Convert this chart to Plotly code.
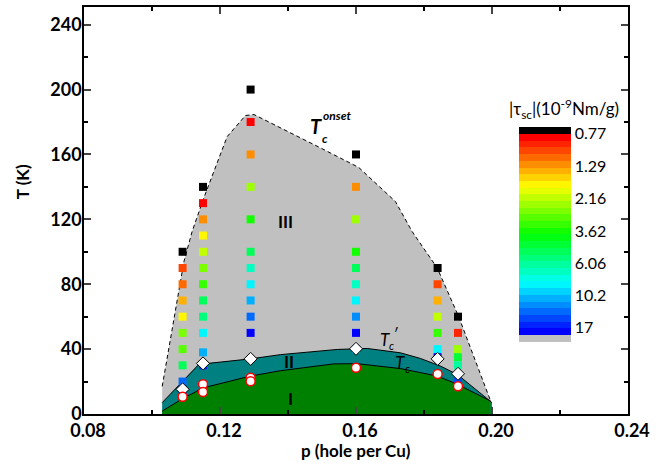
import numpy as np
import colorsys
import plotly.graph_objects as go

# ---------------- data ----------------
# doping columns (hole per Cu)
p_cols = [0.109, 0.115, 0.129, 0.160, 0.184, 0.190]

# torque squares: temperature (K) and |tau_sc| (1e-9 Nm/g) per column
sq_T = [
    [100, 90, 80, 70, 60, 50, 40, 30, 20, 15],
    [140, 130, 120, 110, 100, 90, 80, 70, 60, 50, 38, 30],
    [200, 180, 160, 140, 120, 100, 90, 80, 70, 60, 50],
    [160, 140, 120, 100, 90, 80, 70, 60, 50, 40],
    [90, 80, 70, 60, 50, 40, 35],
    [60, 50, 40, 35, 30, 20],
]
sq_tau = [
    [0.70, 1.05, 1.08, 1.32, 1.72, 2.6, 2.9, 5.2, 12.5, 16.5],
    [0.70, 0.82, 1.31, 1.72, 2.05, 2.56, 3.4, 4.9, 5.6, 8.5, 11.0, 17.0],
    [0.70, 0.80, 1.20, 2.3, 3.5, 5.2, 6.6, 8.5, 11.0, 12.7, 17.5],
    [0.70, 1.31, 2.3, 3.5, 5.0, 6.6, 8.5, 12.2, 18.0, 11.0],
    [0.70, 0.99, 1.44, 2.1, 3.4, 8.5, 18.0],
    [0.70, 0.90, 2.3, 4.5, 6.4, 13.8],
]

# Tc' (diamonds) and Tc (circles)
tcp_p = [0.109, 0.115, 0.129, 0.160, 0.184, 0.190]
tcp_T = [15.2, 31.2, 34.0, 40.2, 34.0, 24.8]
tc_p = [0.109, 0.115, 0.115, 0.129, 0.129, 0.160, 0.184, 0.190]
tc_T = [10.6, 18.4, 13.6, 22.3, 20.2, 28.5, 24.6, 17.1]

# boundary curves
onset_p = [0.103, 0.1094, 0.1118, 0.1152, 0.1221, 0.1275, 0.130, 0.1378, 0.1496,
           0.1608, 0.1716, 0.1765, 0.1839, 0.1902, 0.1996]
onset_T = [17, 94, 112.5, 133, 171, 184, 184.6, 176.5, 164, 152, 131, 112.5, 90, 60, 8]

tcp_curve_p = [0.103, 0.1104, 0.1138, 0.1201, 0.129, 0.1378, 0.1476, 0.1545, 0.1633,
               0.1731, 0.179, 0.1849, 0.1898, 0.2]
tcp_curve_T = [7, 23.4, 30.6, 32, 34, 36.6, 38.7, 39.8, 40.4, 37.7, 34.2, 29.5, 24.4, 7]

tc_curve_p = [0.103, 0.1094, 0.1152, 0.129, 0.1378, 0.1535, 0.1604, 0.1731, 0.1839,
              0.1898, 0.1996]
tc_curve_T = [1.8, 10, 16.2, 23.4, 26.7, 30.9, 31, 28, 23.4, 18.3, 8]

cbar_ticks = [0.77, 1.29, 2.16, 3.62, 6.06, 10.2, 17]

# ---------------- colour scale ----------------
n_bands = 30
c_top_lbl = -np.log10(cbar_ticks[0])
c_per_px = (np.log10(cbar_ticks[-1]) - np.log10(cbar_ticks[0])) / 194.0
cmax = c_top_lbl + 7 * c_per_px
cmin = c_top_lbl - 208 * c_per_px
g = 7 * c_per_px / (cmax - cmin)
b = 1 - g
cs = [[0, "rgb(192,192,192)"], [g, "rgb(192,192,192)"]]
for k in range(n_bands):
    hue = 240.0 * (1 - k / (n_bands - 1)) / 360.0
    r, gg, bb = colorsys.hsv_to_rgb(hue, 1, 1)
    col = "rgb(%d,%d,%d)" % (round(r * 255), round(gg * 255), round(bb * 255))
    t0 = g + (b - g) * k / n_bands
    t1 = g + (b - g) * (k + 1) / n_bands
    cs.append([t0, col])
    cs.append([t1, col])
cs.append([b, "rgb(0,0,0)"])
cs.append([1, "rgb(0,0,0)"])

fig = go.Figure()

# regions
fig.add_trace(go.Scatter(
    x=[onset_p[0]] + onset_p + [onset_p[-1]], y=[0] + onset_T + [0],
    fill="toself", fillcolor="#c0c0c0", line=dict(width=0), mode="lines",
    hoverinfo="skip"))
fig.add_trace(go.Scatter(
    x=[tcp_curve_p[0]] + tcp_curve_p + [tcp_curve_p[-1]], y=[0] + tcp_curve_T + [0],
    fill="toself", fillcolor="#008080", line=dict(width=0), mode="lines",
    hoverinfo="skip"))
fig.add_trace(go.Scatter(
    x=[tc_curve_p[0]] + tc_curve_p + [tc_curve_p[-1]], y=[0] + tc_curve_T + [0],
    fill="toself", fillcolor="#008000", line=dict(width=0), mode="lines",
    hoverinfo="skip"))
# boundary lines
fig.add_trace(go.Scatter(x=onset_p, y=onset_T, mode="lines",
                         line=dict(color="black", width=1, dash="4px,3px")))
fig.add_trace(go.Scatter(x=tcp_curve_p, y=tcp_curve_T, mode="lines",
                         line=dict(color="black", width=1)))
fig.add_trace(go.Scatter(x=tc_curve_p, y=tc_curve_T, mode="lines",
                         line=dict(color="black", width=1)))

# squares
xs, ys, cs_vals = [], [], []
for pc, Ts, taus in zip(p_cols, sq_T, sq_tau):
    for T, tau in zip(Ts, taus):
        xs.append(pc)
        ys.append(T)
        cs_vals.append(-np.log10(tau))
fig.add_trace(go.Scatter(
    x=xs, y=ys, mode="markers",
    marker=dict(symbol="square", size=8, color=cs_vals, colorscale=cs,
                cmin=cmin, cmax=cmax, line=dict(width=0),
                colorbar=dict(
                    x=(519 - 84) / 544, xanchor="left", xref="paper",
                    y=(414 - 233.5) / 409, yanchor="middle", yref="paper",
                    thickness=52, len=215, lenmode="pixels",
                    outlinewidth=0, ypad=0, xpad=0,
                    tickvals=[-np.log10(v) for v in cbar_ticks],
                    ticktext=[("%g" % v) for v in cbar_ticks],
                    ticks="",
                    tickfont=dict(family="Lato", size=16, color="black"),
                ))))

fig.add_trace(go.Scatter(x=tcp_p, y=tcp_T, mode="markers",
                         marker=dict(symbol="diamond", size=10, color="white",
                                     line=dict(color="black", width=1))))
fig.add_trace(go.Scatter(x=tc_p, y=tc_T, mode="markers",
                         marker=dict(symbol="circle", size=9, color="white",
                                     line=dict(color="red", width=1.5))))

axis_font = dict(family="Lato", size=18, color="black", weight="bold")
fig.update_xaxes(range=[0.08, 0.24], tickvals=[0.08, 0.12, 0.16, 0.20, 0.24],
                 ticktext=["0.08", "0.12", "0.16", "0.20", "0.24"],
                 ticks="inside", ticklen=7, tickwidth=1.5, showline=True,
                 linecolor="black", linewidth=1.5, mirror="ticks", showgrid=False,
                 zeroline=False, tickfont=axis_font, ticklabelshift=4,
                 minor=dict(dtick=0.02, tick0=0.08, ticks="inside", ticklen=4,
                            tickwidth=1.5, tickcolor="black", showgrid=False))
fig.update_yaxes(range=[0, 250.9], tickvals=[0, 40, 80, 120, 160, 200, 240],
                 ticks="inside", ticklen=7, tickwidth=1.5, showline=True,
                 linecolor="black", linewidth=1.5, mirror="ticks", showgrid=False,
                 zeroline=False, tickfont=axis_font, ticklabelstandoff=-3,
                 minor=dict(dtick=20, tick0=0, ticks="inside", ticklen=4,
                            tickwidth=1.5, tickcolor="black", showgrid=False))

def px2p(x):
    return 0.08 + (x - 83.5) / 544.5 * 0.16

def px2T(y):
    return (413 - y) * 40 / 65.05

annots = [
    dict(x=px2p(285), y=px2T(220), text="<b>III</b>", size=17),
    dict(x=px2p(289), y=px2T(360), text="<b>II</b>", size=17),
    dict(x=px2p(290), y=px2T(397), text="<b>I</b>", size=17),
    dict(x=px2p(316), y=px2T(124), text="<b><i>T</i></b>", size=20),
    dict(x=px2p(337), y=px2T(114), text="<b><i>onset</i></b>", size=12),
    dict(x=px2p(325), y=px2T(137), text="<b><i>c</i></b>", size=12),
    dict(x=px2p(385), y=px2T(338), text="<i>T</i>", size=17),
    dict(x=px2p(391), y=px2T(344), text="<i>c</i>", size=11),
    dict(x=px2p(395), y=px2T(333), text="<i>′</i>", size=15),
    dict(x=px2p(400), y=px2T(361), text="<i>T</i>", size=17),
    dict(x=px2p(407), y=px2T(367), text="<i>c</i>", size=11),
]
for a in annots:
    fig.add_annotation(x=a["x"], y=a["y"], xref="x", yref="y", text=a["text"],
                       showarrow=False, xanchor="center", yanchor="middle",
                       font=dict(family="Lato", size=a["size"], color="black"))

fig.add_annotation(x=(564 - 84) / 544, y=(414 - 107) / 409, xref="paper", yref="paper",
                   text="|τ<sub>sc</sub>|(10<sup>-9</sup>Nm/g)", showarrow=False,
                   xanchor="center", yanchor="middle",
                   font=dict(family="Lato", size=17, color="black"))
fig.add_annotation(x=(356 - 84) / 544, y=-(451 - 414) / 409, xref="paper", yref="paper",
                   text="<b>p (hole per Cu)</b>", showarrow=False,
                   xanchor="center", yanchor="middle",
                   font=dict(family="Lato", size=17, color="black"))
fig.add_annotation(x=-(84 - 22) / 544, y=(414 - 181) / 409, xref="paper", yref="paper",
                   text="<b>T (K)</b>", showarrow=False, textangle=-90,
                   xanchor="center", yanchor="middle",
                   font=dict(family="Lato", size=17, color="black"))

fig.update_layout(width=669, height=465, showlegend=False,
                  margin=dict(l=84, r=41, t=5, b=51),
                  paper_bgcolor="white", plot_bgcolor="white")
fig.write_html("out.html")
